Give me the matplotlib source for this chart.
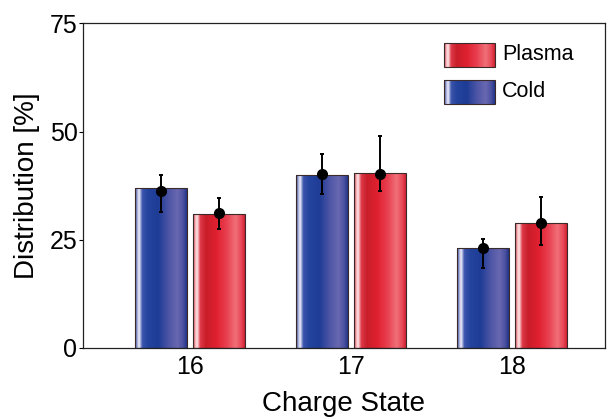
import numpy as np
import matplotlib.pyplot as plt
from matplotlib.colors import LinearSegmentedColormap
from matplotlib.patches import Rectangle

plt.rcParams['font.family'] = ['Liberation Sans', 'DejaVu Sans']

# charge states and measured distributions (%)
charge_states = [16, 17, 18]
cold_bars = [37.0, 40.0, 23.0]
plasma_bars = [31.0, 40.4, 29.0]

# data points with asymmetric error bars
cold_pts = [36.3, 40.1, 23.2]
cold_lo = [31.5, 35.6, 18.5]
cold_hi = [39.9, 44.8, 25.2]
plasma_pts = [31.2, 40.3, 29.0]
plasma_lo = [27.6, 36.3, 23.9]
plasma_hi = [34.6, 49.0, 35.0]

# shaded "cylinder" look for the bars
blue_cmap = LinearSegmentedColormap.from_list('blue_shade', [
    (0.00, '#2a3a80'), (0.04, '#a0a8d8'), (0.08, '#f0f0fc'), (0.14, '#3c54ac'),
    (0.25, '#24449e'), (0.45, '#1e3c96'), (0.65, '#4e56a6'), (0.82, '#6868b0'),
    (0.93, '#4a50a0'), (1.00, '#203488')])
red_cmap = LinearSegmentedColormap.from_list('red_shade', [
    (0.00, '#c02030'), (0.04, '#f4b0b6'), (0.08, '#fde6e6'), (0.14, '#de3848'),
    (0.25, '#c81e2a'), (0.45, '#e02030'), (0.65, '#e84050'), (0.82, '#f07078'),
    (0.93, '#e84858'), (1.00, '#d02030')])
grad = np.linspace(0, 1, 256).reshape(1, -1)


def shaded_rect(ax, x0, y0, w, h, cmap, transform=None):
    if transform is None:
        transform = ax.transData
    rect = Rectangle((x0, y0), w, h, facecolor='none', edgecolor='#3a2a2a',
                     linewidth=0.8, transform=transform, zorder=3)
    ax.add_patch(rect)
    im = ax.imshow(grad, cmap=cmap, aspect='auto', extent=[x0, x0 + w, y0, y0 + h],
                   transform=transform, zorder=2, interpolation='bilinear')
    im.set_clip_path(rect)


fig = plt.figure(figsize=(6.09, 4.19), dpi=100)
ax = fig.add_axes([0.1363, 0.1695, 0.8571, 0.7745])

x = np.array(charge_states, dtype=float)
width = 0.323
off = 0.18

for xi, h in zip(x - off, cold_bars):
    shaded_rect(ax, xi - width / 2, 0, width, h, blue_cmap)
for xi, h in zip(x + off, plasma_bars):
    shaded_rect(ax, xi - width / 2, 0, width, h, red_cmap)

ax.errorbar(x - off, cold_pts,
            yerr=[np.subtract(cold_pts, cold_lo), np.subtract(cold_hi, cold_pts)],
            fmt='o', color='black', ms=7, elinewidth=1.4, capsize=1.6, capthick=1.4, zorder=5)
ax.errorbar(x + off, plasma_pts,
            yerr=[np.subtract(plasma_pts, plasma_lo), np.subtract(plasma_hi, plasma_pts)],
            fmt='o', color='black', ms=7, elinewidth=1.4, capsize=1.6, capthick=1.4, zorder=5)

# legend drawn by hand so the swatches get the same shading
shaded_rect(ax, 0.6916, 0.866, 0.097, 0.074, red_cmap, transform=ax.transAxes)
shaded_rect(ax, 0.6916, 0.752, 0.097, 0.074, blue_cmap, transform=ax.transAxes)
ax.text(0.8027, 0.903, 'Plasma', transform=ax.transAxes, fontsize=15.5, va='center', ha='left')
ax.text(0.8027, 0.789, 'Cold', transform=ax.transAxes, fontsize=15.5, va='center', ha='left')

ax.set_xlim(15.335, 18.58)
ax.set_ylim(0, 75)
ax.set_xticks(charge_states)
ax.set_xticklabels([str(c) for c in charge_states])
ax.set_yticks([0, 25, 50, 75])
ax.tick_params(axis='x', length=0, labelsize=18, pad=5)
ax.tick_params(axis='y', length=3, width=0.8, direction='out', labelsize=18, pad=1)
for s in ax.spines.values():
    s.set_linewidth(0.9)
    s.set_color('#222222')

ax.set_xlabel('Charge State', fontsize=20, labelpad=9)
ax.set_ylabel('Distribution [%]', fontsize=20, labelpad=7)

fig.savefig('out.png', dpi=100)
